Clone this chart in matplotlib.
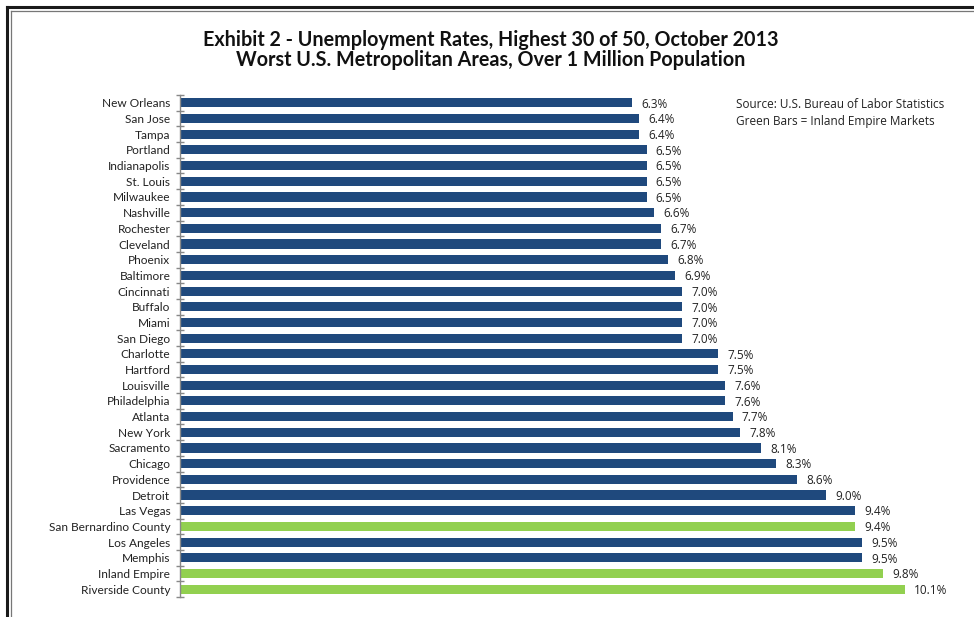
import matplotlib
matplotlib.use("Agg")
import matplotlib.pyplot as plt
from matplotlib.lines import Line2D

cities = ["New Orleans", "San Jose", "Tampa", "Portland", "Indianapolis", "St. Louis",
          "Milwaukee", "Nashville", "Rochester", "Cleveland", "Phoenix", "Baltimore",
          "Cincinnati", "Buffalo", "Miami", "San Diego", "Charlotte", "Hartford",
          "Louisville", "Philadelphia", "Atlanta", "New York", "Sacramento", "Chicago",
          "Providence", "Detroit", "Las Vegas", "San Bernardino County", "Los Angeles",
          "Memphis", "Inland Empire", "Riverside County"]
rates = [6.3, 6.4, 6.4, 6.5, 6.5, 6.5, 6.5, 6.6, 6.7, 6.7, 6.8, 6.9, 7.0, 7.0, 7.0, 7.0,
         7.5, 7.5, 7.6, 7.6, 7.7, 7.8, 8.1, 8.3, 8.6, 9.0, 9.4, 9.4, 9.5, 9.5, 9.8, 10.1]
inland = ["San Bernardino County", "Inland Empire", "Riverside County"]

navy = "#1F497D"
green = "#92D050"

W, H = 974, 617
fig = plt.figure(figsize=(W / 100, H / 100), dpi=100)

# border (top and left double line)
fig.add_artist(Line2D([7 / W, 7 / W], [0, 1 - 7 / H], color="#1a1a1a", lw=2.2))
fig.add_artist(Line2D([7 / W, 1], [1 - 7 / H, 1 - 7 / H], color="#1a1a1a", lw=2.2))
fig.add_artist(Line2D([11 / W, 11 / W], [0, 1 - 11 / H], color="#777777", lw=0.9))
fig.add_artist(Line2D([11 / W, 1], [1 - 11 / H, 1 - 11 / H], color="#777777", lw=0.9))

ax_left, ax_top, ax_bot = 180, 95, 597
ax = fig.add_axes([ax_left / W, 1 - ax_bot / H, (W - ax_left) / W, (ax_bot - ax_top) / H])
scale = 71.77
ax.set_xlim(0, (W - ax_left) / scale)
n = len(cities)
ax.set_ylim(n - 0.5, -0.5)

colors = [green if c in inland else navy for c in cities]
ypos = list(range(n))
ax.barh(ypos, rates, height=0.58, color=colors, edgecolor="none")

for y, v in zip(ypos, rates):
    ax.text(v + 0.13, y + 0.08, f"{v:.1f}%", va="center", ha="left",
            fontsize=8.5, family="Open Sans", color="#222222")

for s in ["top", "right", "bottom"]:
    ax.spines[s].set_visible(False)
ax.spines["left"].set_color("#888888")
ax.spines["left"].set_linewidth(1.0)
ax.set_xticks([])
ax.set_yticks(ypos)
ax.set_yticklabels(cities, family="Lato", fontsize=8.6, color="#222222")
ax.tick_params(axis="y", length=0, pad=7)
# minor ticks at category boundaries crossing the axis
ax.set_yticks([i - 0.5 for i in range(n + 1)], minor=True)
ax.tick_params(axis="y", which="minor", length=6, direction="inout", color="#888888", width=1.0)
ax.patch.set_alpha(0)

fig.text(491 / W, 1 - 40 / H, "Exhibit 2 - Unemployment Rates, Highest 30 of 50, October 2013",
         ha="center", va="center", fontsize=14.2, fontweight="bold", family="Lato", color="#111111")
fig.text(491 / W, 1 - 60 / H, "Worst U.S. Metropolitan Areas, Over 1 Million Population",
         ha="center", va="center", fontsize=14.2, fontweight="bold", family="Lato", color="#111111")

fig.text(736 / W, 1 - 105 / H, "Source: U.S. Bureau of Labor Statistics",
         ha="left", va="center", fontsize=8.5, family="Open Sans", color="#222222")
fig.text(736 / W, 1 - 122 / H, "Green Bars = Inland Empire Markets",
         ha="left", va="center", fontsize=8.5, family="Open Sans", color="#222222")

fig.savefig("out.png", dpi=100)
